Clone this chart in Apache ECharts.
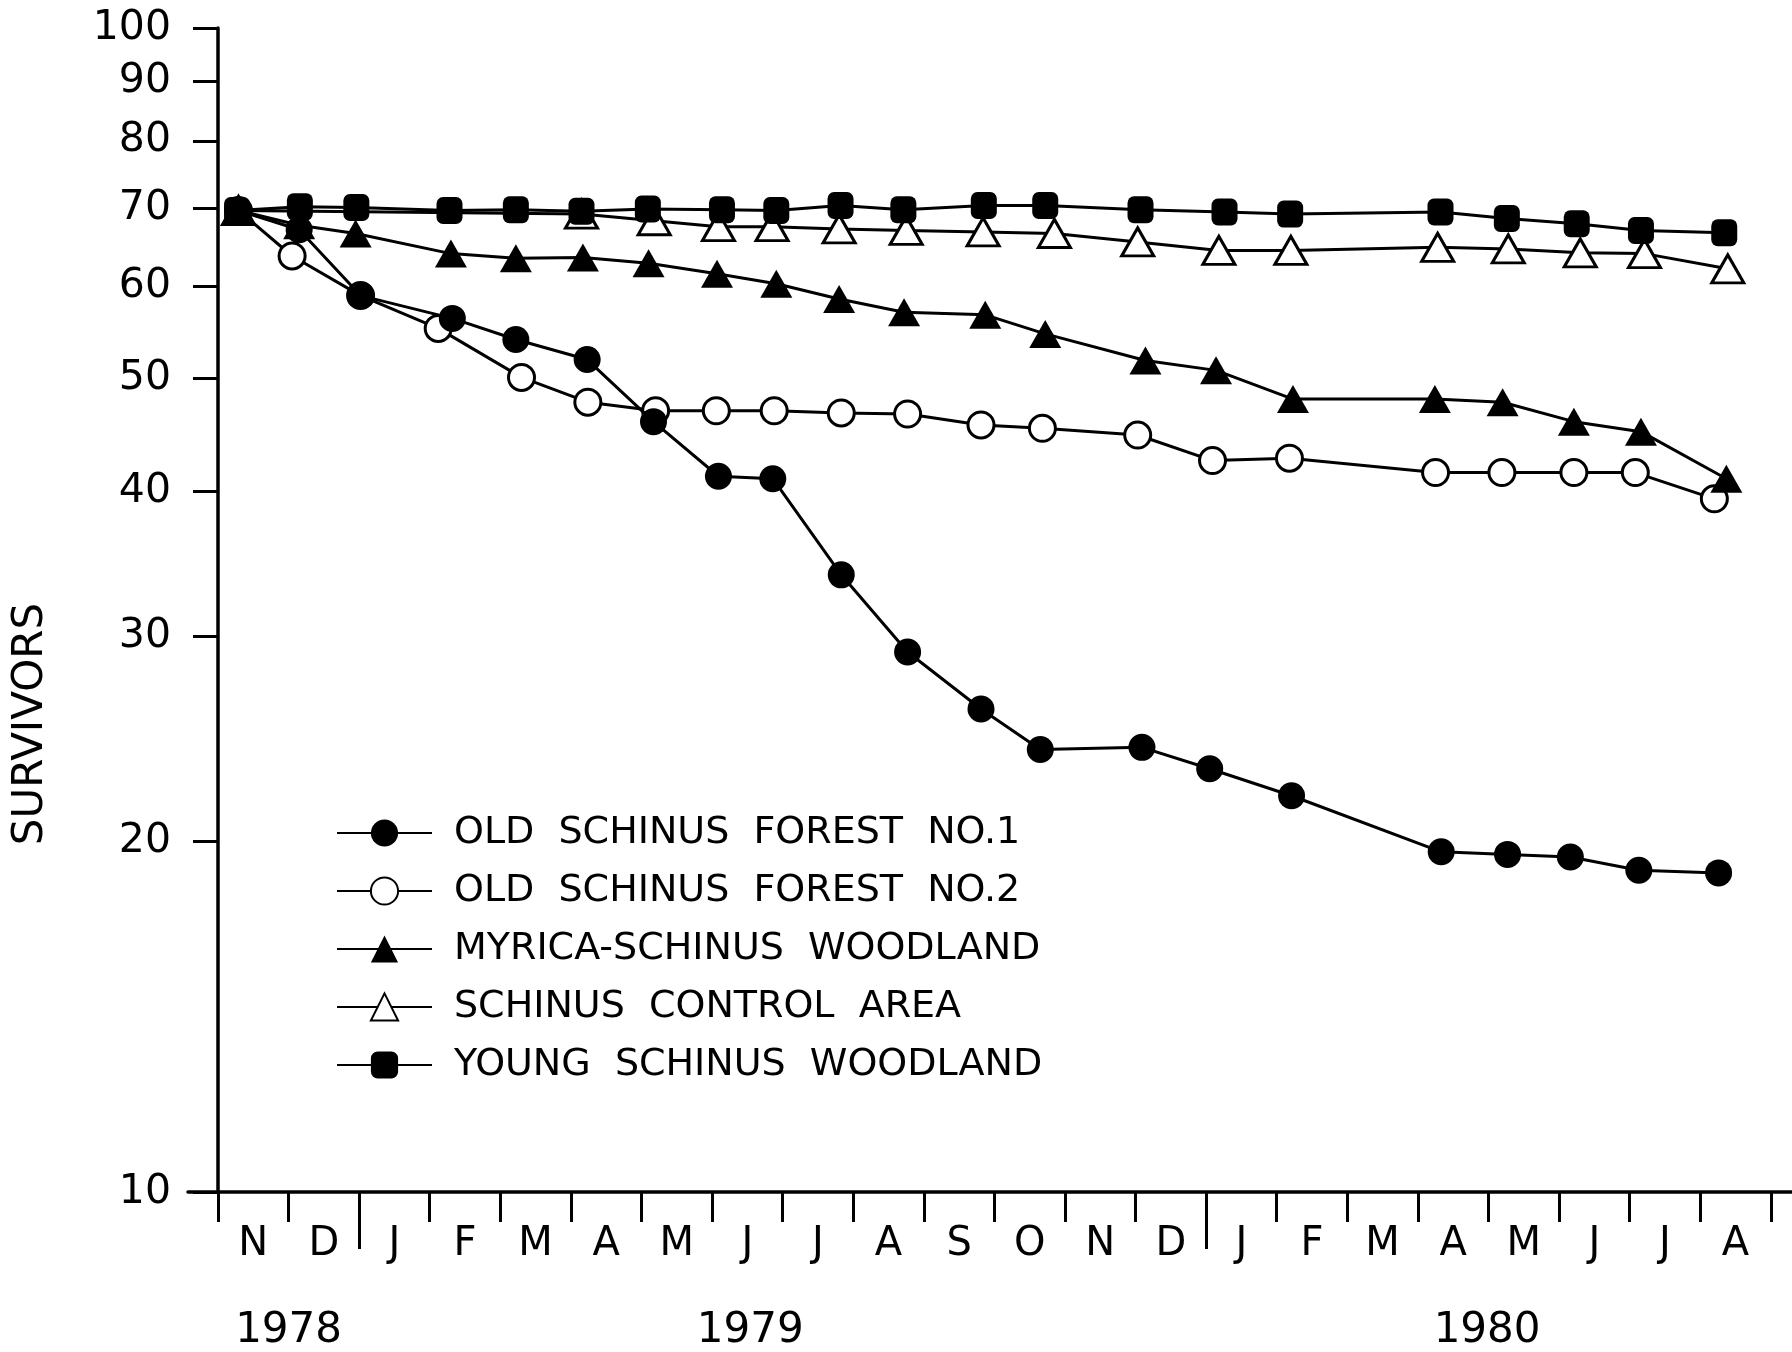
<!DOCTYPE html>
<html>
<head>
<meta charset="utf-8">
<script src="https://cdn.jsdelivr.net/npm/echarts@6/dist/echarts.min.js"></script>
<style>
html,body{margin:0;padding:0;background:#fff;}
#chart{width:1792px;height:1352px;}
</style>
</head>
<body>
<div id="chart"></div>
<script>
// ---- data (x = months since 1 Nov 1978) ----
const seriesNames = [
  'OLD  SCHINUS  FOREST  NO.1',
  'OLD  SCHINUS  FOREST  NO.2',
  'MYRICA-SCHINUS  WOODLAND',
  'SCHINUS  CONTROL  AREA',
  'YOUNG  SCHINUS  WOODLAND'
];
const monthLabels = ['N','D','J','F','M','A','M','J','J','A','S','O','N','D','J','F','M','A','M','J','J','A'];
const yearLabels = ['1978','1979','1980'];
const yearLabelPos = [1.0, 7.54, 17.98];
const yearBoundaryTicks = [2, 14];
const yTickValues = [10,20,30,40,50,60,70,80,90,100];

const x1 = [0.29,1.15,2.02,3.32,4.22,5.23,6.17,7.09,7.86,8.83,9.77,10.81,11.65,13.09,14.05,15.21,17.33,18.27,19.16,20.13,21.26];
const y1 = [69.7,67.1,58.9,56.3,54.0,51.9,45.9,41.2,41.0,33.9,29.1,26.0,24.0,24.1,23.1,21.9,19.6,19.5,19.4,18.9,18.8];

const x2 = [0.29,1.05,2.02,3.12,4.30,5.24,6.20,7.06,7.88,8.83,9.77,10.81,11.68,13.03,14.09,15.18,17.25,18.19,19.21,20.08,21.20];
const y2 = [69.7,63.7,58.9,55.2,50.1,47.7,46.9,46.9,46.9,46.7,46.6,45.6,45.3,44.7,42.5,42.7,41.5,41.5,41.5,41.5,39.4];

const x3 = [0.29,1.15,1.95,3.30,4.22,5.17,6.10,7.07,7.91,8.80,9.72,10.87,11.72,13.14,14.14,15.23,17.24,18.20,19.21,20.16,21.37];
const y3 = [69.7,67.7,66.6,64.0,63.4,63.5,62.8,61.5,60.3,58.5,57.0,56.7,54.6,51.8,50.8,48.0,48.0,47.7,45.9,45.0,41.0];

// control-area points for D..M lie under the squares and are not visible in the figure
const x4 = [0.29,5.15,6.18,7.09,7.85,8.80,9.75,10.84,11.85,13.03,14.18,15.20,17.28,18.28,19.30,20.21,21.39];
const y4 = [69.7,69.2,68.3,67.5,67.5,67.2,67.0,66.8,66.6,65.5,64.4,64.4,64.8,64.6,64.1,64.0,62.1];

const x5 = [0.27,1.16,1.96,3.28,4.22,5.15,6.09,7.14,7.91,8.82,9.71,10.85,11.72,13.07,14.26,15.19,17.32,18.26,19.25,20.16,21.34];
const y5 = [69.7,70.2,70.1,69.7,69.8,69.6,69.9,69.8,69.7,70.4,69.8,70.4,70.4,69.8,69.5,69.2,69.5,68.6,67.9,67.0,66.7];

// ---- styling ----
const FONT = "'DejaVu Sans', sans-serif";
const pair = (xs, ys) => xs.map((x, i) => [x, ys[i]]);
const styles = [
  {symbol: 'circle', size: 27, fill: '#000', z: 5},
  {symbol: 'circle', size: 26, fill: '#fff', z: 2},
  {symbol: 'triangle', size: [32, 28], fill: '#000', z: 4},
  {symbol: 'triangle', size: [32, 28], fill: '#fff', z: 3},
  {symbol: 'roundRect', size: [26, 27], fill: '#000', z: 6}
];
const dataSets = [pair(x1,y1), pair(x2,y2), pair(x3,y3), pair(x4,y4), pair(x5,y5)];

const chart = echarts.init(document.getElementById('chart'), null, {renderer: 'canvas'});
const xMin = -0.425, xMax = 22.3;
const monthTicks = monthLabels.map((m, i) => i).concat([monthLabels.length]);
const monthLabelPos = monthLabels.map((m, i) => i + 0.5);

chart.setOption({
  animation: false,
  backgroundColor: '#fff',
  textStyle: {fontFamily: FONT, color: '#000'},
  grid: {left: 188, right: 0, top: 28, bottom: 159},
  xAxis: [
    {
      type: 'value', min: xMin, max: xMax, position: 'bottom',
      axisLine: {show: true, onZero: false, lineStyle: {color: '#000', width: 3.5}},
      axisTick: {show: true, customValues: monthTicks, length: 30, lineStyle: {color: '#000', width: 3}},
      axisLabel: {
        show: true, customValues: monthLabelPos, margin: 33,
        fontSize: 40, fontFamily: FONT, color: '#000',
        formatter: v => monthLabels[Math.floor(v)] || ''
      },
      splitLine: {show: false}
    },
    {
      type: 'value', min: xMin, max: xMax, position: 'bottom',
      axisLine: {show: false, onZero: false},
      axisTick: {show: true, customValues: yearBoundaryTicks, length: 57, lineStyle: {color: '#000', width: 3}},
      axisLabel: {
        show: true, customValues: yearLabelPos, margin: 118,
        fontSize: 42, fontFamily: FONT, color: '#000',
        formatter: v => {
          let best = 0;
          yearLabelPos.forEach((p, i) => { if (Math.abs(p - v) < Math.abs(yearLabelPos[best] - v)) best = i; });
          return yearLabels[best];
        }
      },
      splitLine: {show: false}
    }
  ],
  yAxis: {
    type: 'log', logBase: 10, min: 10, max: 100,
    axisLine: {show: true, onZero: true, lineStyle: {color: '#000', width: 3.5}},
    axisTick: {show: true, customValues: yTickValues, length: 25, lineStyle: {color: '#000', width: 3}},
    axisLabel: {
      show: true, customValues: yTickValues, margin: 17,
      fontSize: 41, fontFamily: FONT, color: '#000',
      formatter: v => String(Math.round(v))
    },
    splitLine: {show: false},
    minorTick: {show: false}
  },
  legend: {
    show: true, orient: 'vertical', left: 331, top: 809,
    itemWidth: 95, itemHeight: 34, itemGap: 20,
    data: seriesNames,
    textStyle: {fontSize: 38, fontFamily: FONT, color: '#000', lineHeight: 32, padding: [0, 0, 0, 17]}
  },
  graphic: [{
    type: 'text', x: 31, y: 724,
    rotation: Math.PI / 2,
    style: {text: 'SURVIVORS', fontSize: 42, fontFamily: FONT, fill: '#000', align: 'center', verticalAlign: 'middle'}
  }],
  series: dataSets.map((d, i) => ({
    name: seriesNames[i],
    type: 'line',
    data: d,
    z: styles[i].z,
    symbol: styles[i].symbol,
    symbolSize: styles[i].size,
    showAllSymbol: true,
    lineStyle: {color: '#000', width: 3},
    itemStyle: {color: styles[i].fill, borderColor: '#000', borderWidth: styles[i].fill === '#fff' ? 3 : 0},
    emphasis: {disabled: true}
  }))
});
</script>
</body>
</html>
